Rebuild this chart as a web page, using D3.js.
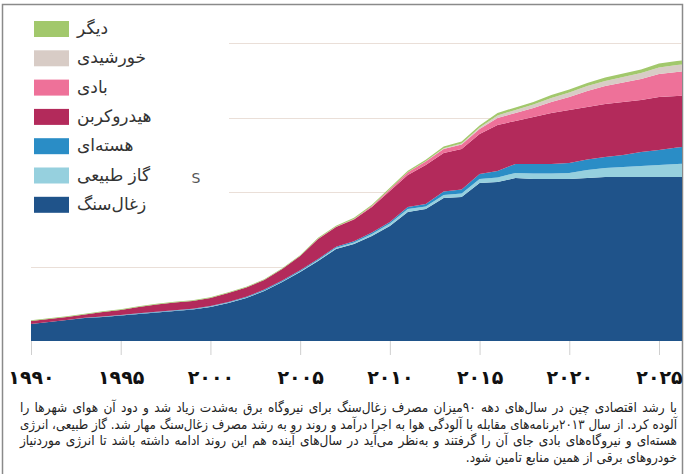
<!DOCTYPE html>
<html>
<head>
<meta charset="utf-8">
<script src="https://cdn.jsdelivr.net/npm/d3@7"></script>
<style>
body{margin:0;background:#fff;}
svg{display:block;}
</style>
</head>
<body>
<svg width="684" height="474"></svg>
<script>
// data (TWh)
var years = [1990,1991,1992,1993,1994,1995,1996,1997,1998,1999,
             2000,2001,2002,2003,2004,2005,2006,2007,2008,2009,
             2010,2011,2012,2013,2014,2015,2016,2017,2018,2019,
             2020,2021,2022,2023,2024,2025,2026,2027];
var coal    = [456,510,564,618,644,685,725,765,806,846,
               913,1020,1155,1343,1584,1853,2148,2470,2604,2819,
               3088,3464,3544,3840,3866,4242,4269,4377,4350,4350,
               4350,4377,4403,4403,4403,4403,4403,4403];
var gas     = [0,0,0,0,5,5,8,8,8,8,
               11,11,11,13,16,19,27,32,40,54,
               67,81,67,81,94,107,121,134,148,148,
               161,215,242,269,295,322,349,362];
var nuclear = [0,0,0,5,11,11,11,11,11,13,
               13,13,19,27,27,27,27,27,32,40,
               40,54,67,94,107,134,175,242,255,255,
               269,282,295,322,376,403,443,470];
var hydro   = [81,81,81,89,118,132,169,196,209,207,
               217,244,252,255,306,384,537,532,585,685,
               832,859,1047,1034,1087,1074,1235,1155,1262,1369,
               1423,1410,1423,1423,1396,1423,1383,1369];
var wind    = [0,0,0,0,0,0,0,0,0,0,
               0,0,0,0,0,0,5,8,16,27,
               48,72,94,107,121,134,188,215,242,295,
               349,430,483,524,564,618,644,671];
var solar   = [0,0,0,0,0,0,0,0,0,0,
               0,0,0,0,0,0,0,0,0,0,
               0,3,8,16,27,40,67,81,94,107,
               121,134,134,148,161,175,188,188];
var other   = [21,21,21,21,21,21,21,21,21,21,
               21,21,21,21,21,21,27,27,32,32,
               40,40,40,48,54,54,67,67,67,81,
               81,81,94,94,94,107,107,107];

var keys   = ["coal","gas","nuclear","hydro","wind","solar","other"];
var names  = ["زغال‌سنگ","گاز طبیعی","هسته‌ای","هیدروکربن","بادی","خورشیدی","دیگر"];
var colors = ["#1f538a","#96d0de","#2a8dc6","#b32a5b","#ee7199","#d8ccc6","#a2c86c"];

var tickYears  = [1990,1995,2000,2005,2010,2015,2020,2025];
var tickLabels = ["۱۹۹۰","۱۹۹۵","۲۰۰۰","۲۰۰۵","۲۰۱۰","۲۰۱۵","۲۰۲۰","۲۰۲۵"];
var gridValues = [2000,4000,6000,8000];

var captionLines = [
    "با رشد اقتصادی چین در سال‌های دهه ۹۰میزان مصرف زغال‌سنگ برای نیروگاه برق به‌شدت زیاد شد و دود آن هوای شهرها را",
    "آلوده کرد. از سال ۲۰۱۳برنامه‌های مقابله با آلودگی هوا به اجرا درآمد و روند رو به رشد مصرف زغال‌سنگ مهار شد. گاز طبیعی، انرژی",
    "هسته‌ای و نیروگاه‌های بادی جای آن را گرفتند و به‌نظر می‌آید در سال‌های آینده هم این روند ادامه داشته باشد تا انرژی موردنیاز",
    "خودروهای برقی از همین منابع تامین شود."
];

var FONT = "'DejaVu Sans', 'Noto Sans', sans-serif";
var svg = d3.select("svg").style("font-family", FONT);

var x = d3.scaleLinear().domain([1990, 2025]).range([31, 659]);
var y = d3.scaleLinear().domain([0, 8000]).range([341, 43]);

// frame
svg.append("rect")
    .attr("x", 2.5).attr("y", 4.5)
    .attr("width", 680).attr("height", 490)
    .attr("fill", "none")
    .attr("stroke", "#8a8a8a")
    .attr("stroke-width", 1.5);

// grid
svg.append("g").selectAll("line")
    .data(gridValues)
    .enter()
    .append("line")
    .attr("x1", function(d){ return d > 2000 ? 229 : x(1990); })
    .attr("x2", 682)
    .attr("y1", function(d){ return Math.round(y(d)) + 0.5; })
    .attr("y2", function(d){ return Math.round(y(d)) + 0.5; })
    .attr("stroke", "#eadfd8")
    .attr("stroke-width", 1);

// stacked areas
var table = years.map(function(yr, i){
    return {year: yr, coal: coal[i], gas: gas[i], nuclear: nuclear[i],
            hydro: hydro[i], wind: wind[i], solar: solar[i], other: other[i]};
});
var series = d3.stack().keys(keys)(table);

svg.append("clipPath").attr("id", "clip")
    .append("rect")
    .attr("x", x(1990)).attr("y", 0)
    .attr("width", 682 - x(1990)).attr("height", 400);

var area = d3.area()
    .x(function(d){ return x(d.data.year); })
    .y0(function(d){ return y(d[0]); })
    .y1(function(d){ return y(d[1]); });

svg.append("g")
    .attr("clip-path", "url(#clip)")
    .selectAll("path")
    .data(series)
    .enter()
    .append("path")
    .attr("d", area)
    .attr("fill", function(d, i){ return colors[i]; });

// x axis
var axis = d3.axisBottom(x)
    .tickValues(tickYears)
    .tickFormat(function(d, i){ return tickLabels[i]; })
    .tickSize(14)
    .tickPadding(16);
var gx = svg.append("g")
    .attr("transform", "translate(0,341)")
    .call(axis);
gx.select(".domain").remove();
gx.selectAll(".tick line").attr("stroke", "#cfcfcf");
gx.selectAll(".tick text")
    .attr("fill", "#111")
    .attr("font-family", FONT)
    .attr("font-weight", "bold")
    .attr("font-size", 19);

// legend
var legend = svg.append("g");
var order = d3.range(keys.length).reverse();
order.forEach(function(k, row){
    var cy = 29 + row * 29.3;
    legend.append("rect")
        .attr("x", 34).attr("y", cy - 8)
        .attr("width", 35).attr("height", 16)
        .attr("fill", colors[k]);
    legend.append("text")
        .attr("x", 77).attr("y", cy + 5)
        .attr("direction", "rtl")
        .attr("text-anchor", "end")
        .attr("font-size", 17)
        .attr("fill", "#333")
        .text(names[k]);
});

// stray letter in the picture
svg.append("text")
    .attr("x", 196).attr("y", 183)
    .attr("text-anchor", "middle")
    .attr("font-size", 14)
    .attr("fill", "#555")
    .text("S");

// caption: justified lines (word spacing), last line right aligned
var caption = svg.append("g");
captionLines.forEach(function(line, i){
    var size = 13.5;
    var t = caption.append("text")
        .attr("x", 677)
        .attr("y", 412 + i * 16.7)
        .attr("direction", "rtl")
        .attr("text-anchor", "start")
        .attr("font-family", "'DejaVu Sans Condensed', 'DejaVu Sans', sans-serif")
        .attr("font-size", size)
        .attr("fill", "#222")
        .text(line);
    var target = i < captionLines.length - 1 ? 657 : 226;
    var w = t.node().getComputedTextLength();
    if (w > target) {
        size = size * target / w;
        t.attr("font-size", size);
        w = t.node().getComputedTextLength();
    }
    if (i < captionLines.length - 1 && w < target) {
        var gaps = line.split(" ").length - 1;
        t.attr("word-spacing", (target - w) / gaps);
    }
});
</script>
</body>
</html>
